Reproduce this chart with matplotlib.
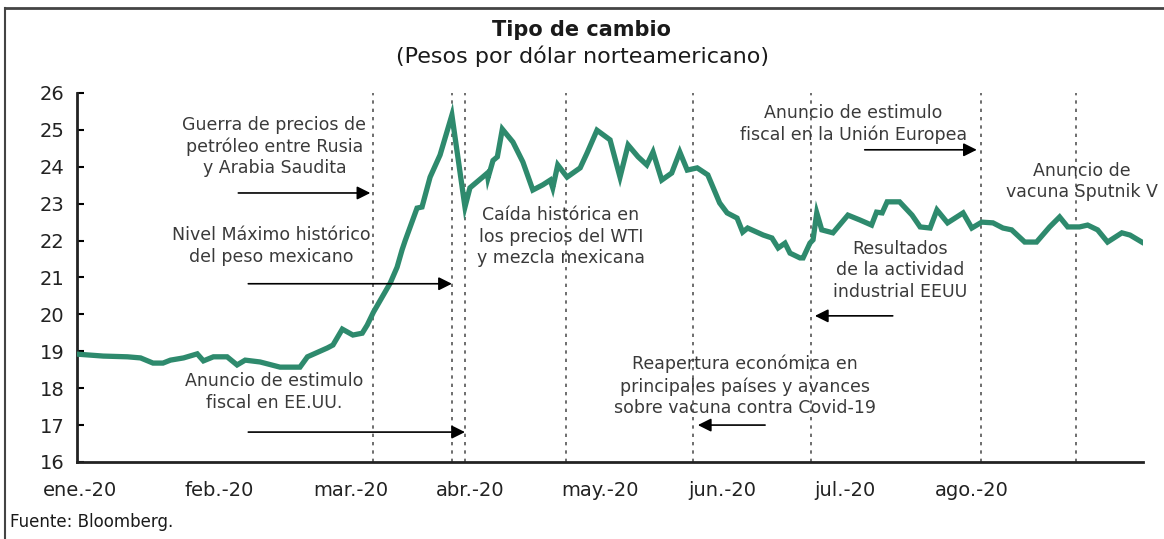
import numpy as np
import matplotlib
matplotlib.use("Agg")
import matplotlib.pyplot as plt
from matplotlib.lines import Line2D

# Tipo de cambio MXN/USD, ene-ago 2020 (sesiones habiles)
sesion = [0, 4.0, 7.9, 10.0, 12.0, 13.6, 14.8, 16.9, 19.1, 20.1, 21.7, 23.9, 25.5, 26.8,
          29.2, 32.4, 35.6, 36.8, 40.0, 40.9, 42.4, 44.1, 45.6, 46.4, 47.4, 50.1, 51.2,
          52.0, 52.5, 54.4, 55.2, 56.5, 58.1, 60.0, 62.1, 62.9, 64.8, 65.7, 65.8, 66.6,
          67.3, 68.1, 69.8, 71.4, 73.0, 74.6, 75.8, 76.2, 77.0, 78.5, 80.6, 81.7, 83.3,
          85.4, 87.0, 88.3, 89.9, 91.3, 92.3, 93.7, 95.3, 96.6, 97.8, 99.4, 101.1, 103.0,
          104.2, 105.8, 106.7, 107.5, 110.0, 111.4, 112.4, 113.5, 114.3, 115.9, 116.4,
          117.5, 118.0, 118.6, 119.4, 121.2, 123.6, 125.5, 127.4, 128.2, 129.1, 129.9,
          131.9, 133.9, 135.2, 136.8, 137.9, 139.6, 142.1, 143.5, 145.1, 146.9, 148.5,
          149.9, 152.0, 153.9, 156.0, 157.6, 158.9, 160.8, 162.1, 163.7, 165.3, 167.6,
          168.9, 170.8]
tipo_cambio = [18.92, 18.87, 18.85, 18.82, 18.68, 18.68, 18.76, 18.82, 18.93, 18.74, 18.85,
               18.85, 18.63, 18.76, 18.71, 18.57, 18.57, 18.85, 19.09, 19.17, 19.60, 19.44,
               19.49, 19.71, 20.06, 20.85, 21.28, 21.75, 22.00, 22.88, 22.91, 23.72, 24.32,
               25.40, 22.91, 23.43, 23.70, 23.83, 23.70, 24.17, 24.27, 25.02, 24.67, 24.13,
               23.37, 23.51, 23.64, 23.43, 24.05, 23.72, 23.97, 24.37, 24.99, 24.73, 23.72,
               24.59, 24.27, 24.05, 24.40, 23.64, 23.83, 24.40, 23.91, 23.97, 23.78, 23.02,
               22.75, 22.61, 22.23, 22.34, 22.15, 22.07, 21.80, 21.93, 21.66, 21.53, 21.53,
               21.93, 22.02, 22.75, 22.29, 22.21, 22.69, 22.56, 22.42, 22.77, 22.75, 23.05,
               23.05, 22.69, 22.37, 22.34, 22.83, 22.48, 22.75, 22.34, 22.50, 22.48, 22.34,
               22.29, 21.96, 21.96, 22.37, 22.64, 22.37, 22.37, 22.42, 22.29, 21.96, 22.21,
               22.15, 21.96]

meses = ["ene.-20", "feb.-20", "mar.-20", "abr.-20", "may.-20", "jun.-20", "jul.-20", "ago.-20"]
meses_pos = [0.2, 22.6, 43.8, 62.9, 83.8, 103.4, 123.1, 143.5]

# sesiones de los eventos marcados con linea punteada
eventos = [47.4, 60.0, 62.1, 78.3, 98.7, 117.7, 144.9, 160.2]

# (texto, x, y del texto), flechas: (x inicio, x fin, y)
notas = [
    ("Guerra de precios de\npetróleo entre Rusia\ny Arabia Saudita", 31.5, 24.55),
    ("Nivel Máximo histórico\ndel peso mexicano", 31.0, 21.85),
    ("Anuncio de estimulo\nfiscal en EE.UU.", 31.5, 17.9),
    ("Caída histórica en\nlos precios del WTI\ny mezcla mexicana", 77.5, 22.1),
    ("Anuncio de estimulo\nfiscal en la Unión Europea", 124.5, 25.15),
    ("Anuncio de\nvacuna Sputnik V", 161.2, 23.6),
    ("Resultados\nde la actividad\nindustrial EEUU", 132.0, 21.2),
    ("Reapertura económica en\nprincipales países y avances\nsobre vacuna contra Covid-19", 107.0, 18.06),
]
flechas = [(25.7, 46.9, 23.29), (27.3, 60.0, 20.83), (27.3, 62.1, 16.81),
           (126.3, 144.3, 24.46), (130.8, 118.3, 19.96), (110.3, 99.5, 17.0)]

verde = "#2e8a6d"
gris = "#3a3a3a"

fig = plt.figure(figsize=(11.64, 5.39), dpi=100)
ax = fig.add_axes([0.0662, 0.1429, 0.9158, 0.6846])

for ev in eventos:
    ax.vlines(ev, 16, 26, colors="#555555", linestyles=(0, (2, 3)), lw=1.2, zorder=1)

ax.plot(sesion, tipo_cambio, color=verde, lw=3.8, solid_joinstyle="miter", zorder=3)

for texto, x, y in notas:
    ax.text(x, y, texto, ha="center", va="center", fontsize=12.5, color=gris,
            linespacing=1.25, zorder=4)
for x0, x1, y in flechas:
    ax.annotate("", xy=(x1, y), xytext=(x0, y),
                arrowprops=dict(arrowstyle="-|>", color="black", lw=1.2,
                                mutation_scale=20, shrinkA=0, shrinkB=0))

ax.set_xlim(-0.2, 171)
ax.set_ylim(16, 26)
ax.set_yticks(range(16, 27))
ax.set_xticks(meses_pos)
ax.set_xticklabels(meses)

for s in ["top", "right"]:
    ax.spines[s].set_visible(False)
for s in ["left", "bottom"]:
    ax.spines[s].set_linewidth(2)
    ax.spines[s].set_color("#222222")
ax.tick_params(axis="y", direction="in", length=5, width=1.5, pad=9,
               labelsize=14, labelcolor="#222222")
ax.tick_params(axis="x", length=0, pad=14, labelsize=14, labelcolor="#222222")

fig.text(0.5, 0.944, "Tipo de cambio", ha="center", va="center", fontsize=15,
         fontweight="bold", color="#1a1a1a")
fig.text(0.5, 0.896, "(Pesos por dólar norteamericano)", ha="center", va="center",
         fontsize=16, color="#1a1a1a")
fig.text(0.009, 0.032, "Fuente: Bloomberg.", ha="left", va="center", fontsize=12,
         color="#1a1a1a")

# marco de la imagen original
fig.add_artist(Line2D([0.004, 1.0], [0.985, 0.985], transform=fig.transFigure,
                      color="#444444", lw=2))
fig.add_artist(Line2D([0.004, 0.004], [0.0, 0.985], transform=fig.transFigure,
                      color="#444444", lw=1.5))

fig.savefig("out.png", dpi=100)
